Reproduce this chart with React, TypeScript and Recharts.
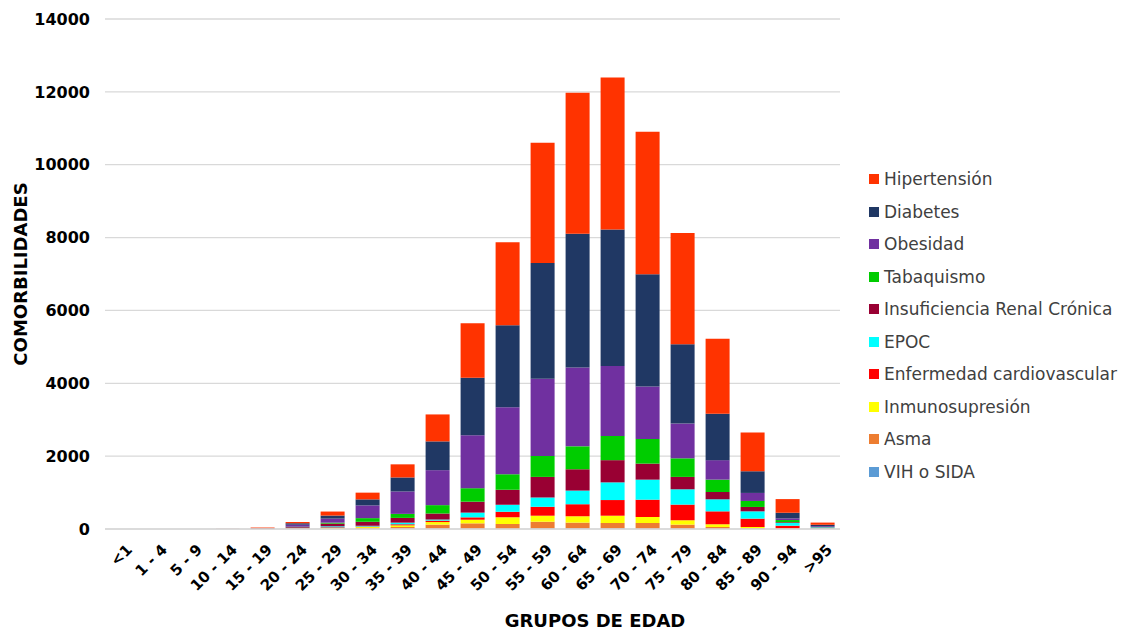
import { BarChart, Bar, XAxis, YAxis, CartesianGrid } from "recharts";

const AGE_GROUPS = ["<1", "1 - 4", "5 - 9", "10 - 14", "15 - 19", "20 - 24", "25 - 29", "30 - 34", "35 - 39", "40 - 44", "45 - 49", "50 - 54", "55 - 59", "60 - 64", "65 - 69", "70 - 74", "75 - 79", "80 - 84", "85 - 89", "90 - 94", ">95"];

// stacked bottom -> top
const VIH = [0, 0, 0, 0, 0, 3, 3, 3, 10, 10, 10, 10, 15, 15, 15, 10, 10, 5, 5, 3, 5];
const ASMA = [0, 0, 0, 0, 1, 5, 8, 20, 45, 110, 145, 125, 185, 160, 150, 155, 110, 50, 20, 5, 3];
const INMUNO = [0, 0, 0, 0, 1, 5, 15, 30, 45, 70, 100, 185, 165, 175, 200, 165, 120, 75, 30, 8, 3];
const CARDIO = [0, 0, 0, 0, 1, 10, 20, 15, 30, 40, 65, 155, 245, 330, 430, 475, 430, 355, 230, 75, 10];
const EPOC = [0, 0, 0, 0, 1, 10, 28, 20, 45, 30, 130, 190, 255, 375, 485, 550, 420, 330, 200, 75, 20];
const RENAL = [0, 0, 0, 0, 2, 20, 74, 110, 130, 165, 300, 410, 565, 585, 610, 440, 340, 200, 120, 20, 5];
const TABACO = [0, 0, 0, 0, 1, 10, 27, 100, 110, 230, 370, 430, 575, 630, 665, 675, 510, 340, 165, 60, 5];
const OBESIDAD = [0, 0, 0, 1, 5, 55, 111, 350, 615, 960, 1455, 1840, 2120, 2165, 1920, 1440, 955, 535, 220, 45, 25];
const DIABETES = [0, 0, 0, 1, 6, 40, 83, 165, 385, 790, 1580, 2250, 3180, 3670, 3745, 3085, 2175, 1275, 595, 155, 40];
const HIPERTENSION = [0, 0, 0, 2, 22, 35, 110, 185, 360, 740, 1495, 2280, 3300, 3870, 4175, 3910, 3055, 2055, 1065, 375, 60];

const Y_TICKS = [0, 2000, 4000, 6000, 8000, 10000, 12000, 14000];

const SERIES = [
  { key: "vih", name: "VIH o SIDA", color: "#5B9BD5", values: VIH },
  { key: "asma", name: "Asma", color: "#ED7D31", values: ASMA },
  { key: "inmuno", name: "Inmunosupresión", color: "#FFFF00", values: INMUNO },
  { key: "cardio", name: "Enfermedad cardiovascular", color: "#FF0000", values: CARDIO },
  { key: "epoc", name: "EPOC", color: "#00FFFF", values: EPOC },
  { key: "renal", name: "Insuficiencia Renal Crónica", color: "#990033", values: RENAL },
  { key: "tabaco", name: "Tabaquismo", color: "#00CC00", values: TABACO },
  { key: "obesidad", name: "Obesidad", color: "#7030A0", values: OBESIDAD },
  { key: "diabetes", name: "Diabetes", color: "#203864", values: DIABETES },
  { key: "hipertension", name: "Hipertensión", color: "#FF3300", values: HIPERTENSION },
];

const data = AGE_GROUPS.map((g, i) => {
  const row: Record<string, string | number> = { group: g };
  SERIES.forEach((s) => {
    row[s.key] = s.values[i];
  });
  return row;
});

const FONT = "'DejaVu Sans', sans-serif";

function AgeTick(props: any) {
  const { x, y, payload } = props;
  return (
    <g transform={`translate(${x + 7},${y + 10})`}>
      <text
        transform="rotate(-45)"
        textAnchor="end"
        dominantBaseline="central"
        fontFamily={FONT}
        fontWeight="bold"
        fontSize={15}
        fill="#000"
      >
        {payload.value}
      </text>
    </g>
  );
}

function LegendList() {
  const items = [...SERIES].reverse();
  return (
    <div style={{ fontFamily: FONT, fontSize: 17, color: "#404040" }}>
      {items.map((s) => (
        <div key={s.key} style={{ display: "flex", alignItems: "center", height: 32.5 }}>
          <span style={{ width: 10, height: 10, background: s.color, display: "inline-block", marginRight: 5 }} />
          <span>{s.name}</span>
        </div>
      ))}
    </div>
  );
}

export default function App() {
  return (
    <div style={{ position: "absolute", left: 0, top: 0, width: 1125, height: 630, background: "#fff" }}>
      <BarChart
        width={1125}
        height={630}
        data={data}
        barCategoryGap="16%"
        margin={{ top: 19, right: 285, bottom: 0, left: 35 }}
      >
        <CartesianGrid vertical={false} stroke="#d9d9d9" strokeWidth={1.3} />
        <XAxis
          dataKey="group"
          interval={0}
          tickLine={false}
          axisLine={{ stroke: "#d9d9d9", strokeWidth: 1.5 }}
          tick={<AgeTick />}
          height={101}
        />
        <YAxis
          domain={[0, 14000]}
          ticks={Y_TICKS}
          width={70}
          tickLine={false}
          axisLine={false}
          tickMargin={9}
          tick={{ fontFamily: FONT, fontWeight: "bold", fontSize: 16, fill: "#000" }}
        />
        {SERIES.map((s) => (
          <Bar
            key={s.key}
            dataKey={s.key}
            name={s.name}
            stackId="a"
            fill={s.color}
            isAnimationActive={false}
          />
        ))}
      </BarChart>
      <div style={{ position: "absolute", left: 869, top: 163, width: 256 }}>
        <LegendList />
      </div>
      <div
        style={{
          position: "absolute",
          left: 20,
          top: 274,
          transform: "translate(-50%, -50%) rotate(-90deg)",
          fontFamily: FONT,
          fontWeight: "bold",
          fontSize: 18,
          whiteSpace: "nowrap",
          color: "#000",
        }}
      >
        COMORBILIDADES
      </div>
      <div
        style={{
          position: "absolute",
          left: 595,
          top: 620,
          transform: "translate(-50%, -50%)",
          fontFamily: FONT,
          fontWeight: "bold",
          fontSize: 18,
          whiteSpace: "nowrap",
          color: "#000",
        }}
      >
        GRUPOS DE EDAD
      </div>
    </div>
  );
}
